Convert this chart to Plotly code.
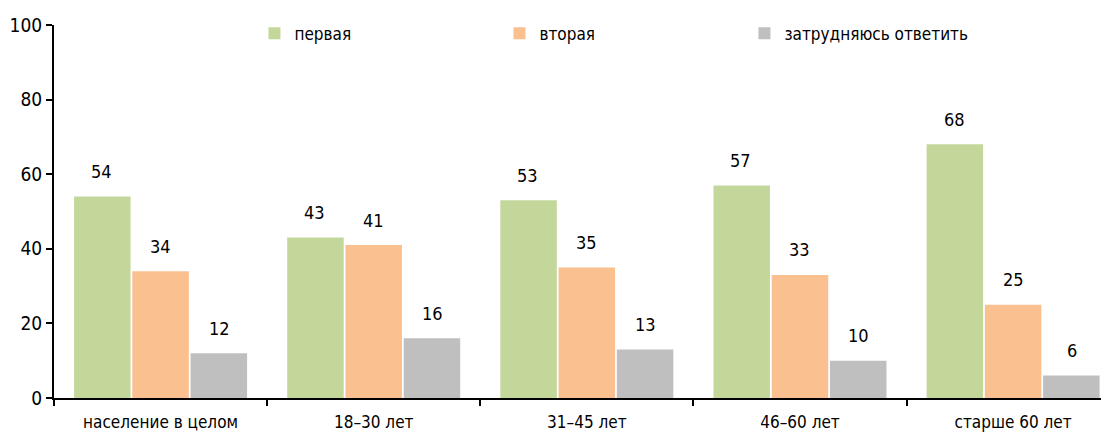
import plotly.graph_objects as go

categories = ["население в целом", "18–30 лет", "31–45 лет", "46–60 лет", "старше 60 лет"]
series_names = ["первая", "вторая", "затрудняюсь ответить"]
first = [54, 43, 53, 57, 68]
second = [34, 41, 35, 33, 25]
unsure = [12, 16, 13, 10, 6]
colors = ["#C4D79B", "#FAC090", "#BFBFBF"]

FONT = "DejaVu Sans Condensed, Liberation Sans Narrow, sans-serif"

fig = go.Figure()
all_series = [first, second, unsure]
for name, vals, col in zip(series_names, all_series, colors):
    fig.add_trace(go.Bar(
        x=categories, y=vals, name=name,
        marker=dict(color=col, line=dict(width=0)),
    ))

shifts = [-59, 0, 59]
for vals, xs in zip(all_series, shifts):
    for c, v in zip(categories, vals):
        fig.add_annotation(x=c, y=v, text=str(v), showarrow=False,
                           xshift=xs, yshift=25, font=dict(size=18, color="#000", family=FONT))

fig.update_layout(
    width=1101, height=425,
    margin=dict(l=46, r=0, t=17, b=35),
    paper_bgcolor="white", plot_bgcolor="white",
    barmode="group", bargap=0.18, bargroupgap=0.03,
    font=dict(family=FONT, size=16, color="#000"),
    showlegend=True,
    legend=dict(orientation="h", x=0.19, xanchor="left", y=1.025, yanchor="top",
                font=dict(size=17, family=FONT), entrywidth=200, entrywidthmode="pixels",
                itemsizing="constant", itemwidth=30, bgcolor="rgba(0,0,0,0)"),
    xaxis=dict(range=[-0.5, 4.45], showline=True, linecolor="#000", linewidth=2, ticks="outside",
               tickson="boundaries", ticklen=6, tickwidth=2, tickcolor="#000",
               showgrid=False, tickfont=dict(size=17, family=FONT), ticklabelstandoff=8),
    yaxis=dict(range=[0, 100], dtick=20, showline=True, linecolor="#000", linewidth=2,
               ticks="outside", ticklen=6, tickwidth=2, tickcolor="#000",
               showgrid=False, zeroline=False, tickfont=dict(size=19, family=FONT)),
)

fig.write_html("out.html")
